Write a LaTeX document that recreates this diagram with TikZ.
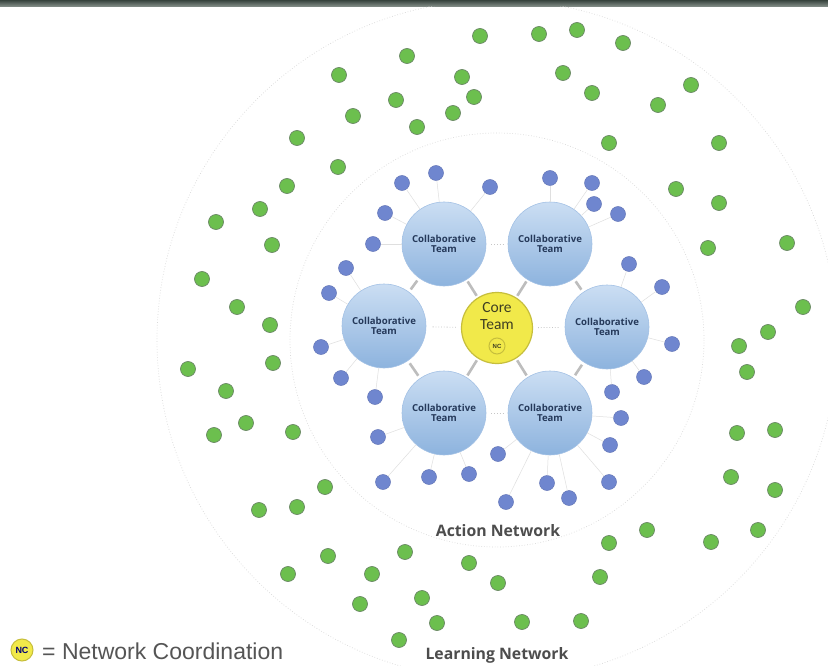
\documentclass[tikz,border=0pt]{standalone}
\usepackage{fontspec}
\newfontfamily\calfont{Carlito}
\newfontfamily\opfont{Open Sans}
\newfontfamily\arfont{Liberation Sans}
\definecolor{teamtop}{HTML}{CBDEF3}
\definecolor{teambot}{HTML}{8DB3DE}
\definecolor{teamedge}{HTML}{A3C1E5}
\definecolor{teamtext}{HTML}{25395A}
\definecolor{corefill}{HTML}{F1E94A}
\definecolor{coreedge}{HTML}{C6BE3C}
\definecolor{coretext}{HTML}{3E3E22}
\definecolor{bluedotc}{HTML}{6F86CF}
\definecolor{bluedotedge}{HTML}{6577B8}
\definecolor{greendotc}{HTML}{6CBF4E}
\definecolor{greendotedge}{HTML}{6A8864}
\definecolor{linkgray}{HTML}{BDBDBD}
\definecolor{labelgray}{HTML}{4D4D4D}
\definecolor{legendgray}{HTML}{555555}
\definecolor{stripdark}{HTML}{36423C}
\definecolor{stripfade}{HTML}{8A948F}
\tikzset{
  x=1pt, y=-1pt,
  team/.style={circle, minimum size=84pt, inner sep=0pt, top color=teamtop,
    bottom color=teambot, draw=teamedge, line width=0.6pt, align=center,
    text=teamtext, font=\opfont\bfseries\fontsize{9.6}{10.5}\selectfont},
  coreteam/.style={circle, minimum size=71pt, inner sep=0pt, fill=corefill,
    draw=coreedge, line width=1.2pt, align=center, text=coretext,
    font=\calfont\fontsize{15.5}{16.5}\selectfont},
  ncbadge/.style={circle, minimum size=#1, inner sep=0pt, fill=corefill,
    draw=coreedge, line width=1pt},
  bluedot/.style={circle, minimum size=15pt, inner sep=0pt, fill=bluedotc,
    draw=bluedotedge, line width=0.5pt},
  greendot/.style={circle, minimum size=15pt, inner sep=0pt, fill=greendotc,
    draw=greendotedge, line width=0.7pt},
  spoke/.style={draw=gray!25, line width=0.5pt},
  thicklink/.style={draw=linkgray, line width=2.6pt},
  faintlink/.style={draw=gray!45, dotted, line width=0.8pt},
  ring/.style={draw=gray!30, dotted, line width=0.7pt},
  netlabel/.style={text=labelgray, font=\opfont\bfseries\fontsize{15.8}{17}\selectfont}
}
\begin{document}
\begin{tikzpicture}
\useasboundingbox (0,0) rectangle (828,666);
\fill[white] (0,0) rectangle (828,666);
% header strip
\shade[top color=stripdark, bottom color=stripfade] (0,0) rectangle (828,7);

% network boundaries
\begin{scope}
  \clip (0,7) rectangle (828,666);
  \draw[ring] (497,340) circle[radius=207];
  \draw[ring] (497,340) circle[radius=340];
\end{scope}

% core team: the text is lifted above centre to leave room for the NC badge
\node[coreteam] (core) at (497,328)
  {Core\\Team\\\rule{0pt}{23pt}};
\node[ncbadge=16pt, font=\arfont\bfseries\fontsize{6}{6}\selectfont,
  text=coretext] (nc) at (497,346) {NC};

% collaborative teams
\node[team] (tTL) at (444,244) {Collaborative\\Team};
\node[team] (tTR) at (550,244) {Collaborative\\Team};
\node[team] (tL)  at (384,326) {Collaborative\\Team};
\node[team] (tR)  at (607,327) {Collaborative\\Team};
\node[team] (tBL) at (444,413) {Collaborative\\Team};
\node[team] (tBR) at (550,413) {Collaborative\\Team};

% links between core and teams
\draw[thicklink, shorten <=2pt, shorten >=2pt] (core) -- (tTL);
\draw[thicklink, shorten <=2pt, shorten >=2pt] (core) -- (tTR);
\draw[thicklink, shorten <=2pt, shorten >=2pt] (core) -- (tBL);
\draw[thicklink, shorten <=2pt, shorten >=2pt] (core) -- (tBR);
\draw[faintlink, shorten <=5pt, shorten >=5pt] (core) -- (tL);
\draw[faintlink, shorten <=5pt, shorten >=5pt] (core) -- (tR);
% links between neighbouring teams
\draw[thicklink, shorten <=3pt, shorten >=3pt] (tTL) -- (tL);
\draw[thicklink, shorten <=3pt, shorten >=3pt] (tL) -- (tBL);
\draw[thicklink, shorten <=3pt, shorten >=3pt] (tBR) -- (tR);
\draw[thicklink, shorten <=3pt, shorten >=3pt] (tR) -- (tTR);
\draw[faintlink, shorten <=5pt, shorten >=5pt] (tTL) -- (tTR);
\draw[faintlink, shorten <=5pt, shorten >=5pt] (tBL) -- (tBR);

% action network members
\foreach \px/\py [count=\i] in {
  402/183, 436/173, 490/187, 550/178, 592/183, 594/204, 618/214, 629/264,
  662/287, 672/344, 644/377, 612/392, 621/418, 610/445, 609/482, 569/498,
  547/483, 506/502, 498/454, 469/474, 429/477, 383/482, 378/437, 375/397,
  341/378, 321/347, 329/293, 346/268, 373/244, 385/213}
  \node[bluedot] (b\i) at (\px,\py) {};
\foreach \i/\t in {1/tTL, 2/tTL, 3/tTL, 4/tTR, 5/tTR, 6/tTR, 7/tTR, 8/tR,
  9/tR, 10/tR, 11/tR, 12/tR, 13/tBR, 14/tBR, 15/tBR, 16/tBR, 17/tBR, 18/tBR,
  19/tBR, 20/tBL, 21/tBL, 22/tBL, 23/tBL, 24/tL, 25/tL, 26/tL, 27/tL, 28/tL,
  29/tTL, 30/tTL}
  \draw[spoke] (b\i) -- (\t);

% learning network members
\foreach \px/\py [count=\i] in {
  480/36, 539/34, 577/30, 623/43, 407/56, 339/75, 462/77, 563/73, 474/97,
  396/100, 592/93, 691/85, 658/105, 353/116, 453/113, 417/127, 297/138,
  609/143, 719/143, 338/167, 287/186, 676/189, 719/203, 260/209, 216/222,
  272/245, 708/248, 787/243, 202/279, 237/307, 270/325, 803/307, 768/332,
  739/346, 747/372, 188/369, 273/363, 226/391, 246/423, 214/435, 293/432,
  737/433, 775/430, 731/477, 775/490, 325/487, 259/510, 297/507, 758/530,
  711/542, 647/530, 609/543, 600/577, 405/552, 469/563, 498/583, 328/556,
  288/574, 372/574, 360/604, 422/598, 437/623, 522/622, 581/621, 399/640}
  \node[greendot] (g\i) at (\px,\py) {};

% labels
\node[netlabel] (action) at (498,531) {Action Network};
\node[netlabel] (learning) at (497,655) {Learning Network};

% legend
\node[ncbadge=22pt, font=\arfont\bfseries\fontsize{9}{9}\selectfont,
  text=blue!45!black] (legnc) at (22,650) {NC};
\node[anchor=west, inner sep=0pt, text=legendgray,
  font=\arfont\fontsize{23}{23}\selectfont] (legtext) at (42,651)
  {= Network Coordination};
\end{tikzpicture}
\end{document}
